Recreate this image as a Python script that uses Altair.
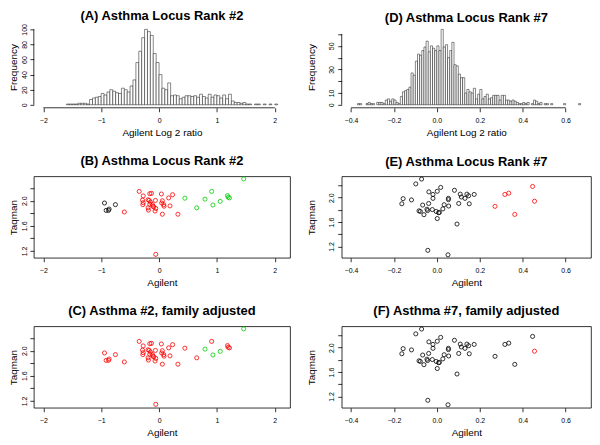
import altair as alt
import pandas as pd

FONT = "Liberation Sans"

# ---------------- Histogram A (Agilent log2 ratio, locus rank #2) ----------------
a_bin_start = -1.6
a_bin_width = 0.05
a_counts = [1, 1, 1, 1, 2, 2, 2, 1, 7, 9,
            10, 11, 15, 13, 17, 20, 18, 16, 15, 22,
            20, 17, 25, 33, 56, 71, 89, 100, 97, 92,
            68, 56, 40, 22, 20, 29, 12, 13, 12, 8,
            10, 12, 12, 11, 12, 10, 14, 11, 9, 14,
            10, 13, 12, 9, 13, 8, 14, 5, 3, 3,
            2, 3, 1, 1, 0, 1, 1, 0, 1, 0,
            1, 0, 1]

# ---------------- Histogram D (Agilent log2 ratio, locus rank #7) ----------------
d_bin_start = -0.37
d_bin_width = 0.01
d_counts = [1, 1, 0, 0, 1, 2, 1, 1, 0, 2,
            2, 2, 1, 4, 5, 3, 5, 4, 2, 1,
            7, 11, 12, 13, 15, 27, 25, 37, 43, 42,
            46, 49, 54, 45, 50, 48, 46, 50, 46, 64,
            49, 51, 40, 46, 53, 34, 33, 26, 23, 23,
            10, 13, 11, 10, 14, 5, 9, 13, 5, 7,
            9, 5, 6, 8, 8, 8, 4, 8, 8, 4,
            4, 3, 4, 3, 2, 1, 1, 2, 1, 2,
            0, 1, 4, 3, 1, 2, 0, 1, 1, 0,
            1, 0, 0, 0, 0, 0, 1, 0, 0, 0,
            0, 0, 0, 1]

# ---------------- Scatter B / C (rank #2) ----------------
rank2_agilent = [-0.943, -0.914, -0.874, -0.863, -0.754,
                 -0.343, -0.274, -0.286, -0.274, -0.280, -0.189, -0.160, -0.131, -0.171, -0.149,
                 -0.160, -0.189, -0.183, -0.114, -0.103, -0.091, -0.057, -0.069, -0.063, 0.040,
                 0.057, 0.046, 0.080, 0.086, 0.057, 0.166, 0.189, 0.234, 0.326, -0.600, -0.057,
                 0.446, 0.651, 0.794, 0.909, 0.931, 1.057, 1.183, 1.194, 1.217, 1.463]
rank2_taqman = [1.964, 1.846, 1.846, 1.867, 1.938,
                2.149, 2.077, 2.010, 1.969, 1.938, 2.015, 2.113, 2.118, 2.005, 1.979,
                1.944, 1.887, 1.851, 1.938, 1.913, 1.903, 1.877, 1.836, 2.005, 2.108,
                2.000, 1.964, 1.938, 1.913, 1.785, 2.046, 1.918, 2.097, 1.785, 1.821, 1.144,
                2.041, 1.887, 2.026, 2.149, 1.933, 1.990, 2.082, 2.056, 2.046, 2.349]
rank2_group = ["black"] * 5 + ["red"] * 31 + ["green"] * 10
rank2_group_adj = ["red"] * 36 + ["red", "red", "green", "red", "green", "green", "red", "red", "red", "green"]

# ---------------- Scatter E / F (rank #7) ----------------
rank7_agilent = [-0.163, -0.157, -0.118, -0.098, -0.071, -0.066, -0.060, -0.083, -0.077, -0.046,
                 -0.043, -0.037, -0.038, -0.042, -0.021, -0.018, -0.018, -0.003, 0.002, 0.002,
                 0.008, 0.012, 0.018, 0.028, 0.034, 0.054, 0.054, 0.055, 0.052, 0.082,
                 0.094, 0.102, 0.109, 0.114, 0.131, 0.140, 0.148, 0.151, 0.174,
                 0.271, 0.317, 0.335, 0.363, 0.446, 0.455]
rank7_taqman = [1.900, 1.984, 1.963, 2.226, 2.305, 1.879, 1.721, 1.784, 1.774, 1.811,
                1.789, 2.095, 1.905, 1.137, 1.805, 2.053, 1.989, 1.774, 2.105, 1.658,
                1.753, 1.758, 2.168, 1.816, 1.884, 1.989, 1.968, 1.863, 1.063, 2.121,
                1.568, 1.905, 2.058, 2.011, 1.989, 2.058, 2.032, 1.900, 2.053,
                1.858, 2.053, 2.074, 1.726, 2.184, 1.942]
rank7_group = ["black"] * 39 + ["red"] * 6
rank7_group_adj = ["black"] * 44 + ["red"]

COL1_W = 258
COL2_W = 251
ROW_H = 82

BLACK = "#000000"


def x_axis(values, fmt, title):
    return alt.Axis(values=values, format=fmt, title=title, grid=False, domain=False,
                    tickSize=4, tickColor=BLACK, tickWidth=0.8,
                    labelFont=FONT, labelFontSize=7, labelColor=BLACK, labelPadding=5,
                    labelFlush=False, labelOverlap=False, labelBound=False,
                    titleFont=FONT, titleFontSize=10, titleFontWeight="normal",
                    titleColor=BLACK, titlePadding=4)


def y_axis(values, label_expr, title, label_pad, title_pad):
    return alt.Axis(values=values, labelExpr=label_expr, title=title, grid=False, domain=False,
                    tickSize=4, tickColor=BLACK, tickWidth=0.8,
                    labelFont=FONT, labelFontSize=7, labelColor=BLACK,
                    labelAngle=-90, labelAlign="center", labelBaseline="bottom",
                    labelPadding=label_pad, labelFlush=False, labelOverlap=False,
                    labelBound=False,
                    titleFont=FONT, titleFontSize=10, titleFontWeight="normal",
                    titleColor=BLACK, titlePadding=title_pad)


def make_title(text, offset):
    return alt.TitleParams(text=text, font=FONT, fontSize=13, fontWeight="bold",
                           color=BLACK, anchor="middle", offset=offset)


def hist_panel(counts, start, width, x_domain, x_ticks, x_fmt, y_domain, y_ticks,
               y_label_expr, y_line_max, title, w, label_pad, title_pad):
    rows = []
    for i, c in enumerate(counts):
        if c > 0:
            x0 = round(start + i * width, 4)
            rows.append({"x0": x0, "x1": round(x0 + width, 4), "count": c})
    df = pd.DataFrame(rows)
    xs = alt.Scale(domain=x_domain, nice=False, zero=False)
    ys = alt.Scale(domain=y_domain, nice=False, zero=False)
    xa = x_axis(x_ticks, x_fmt, "Agilent Log 2 ratio")
    ya = y_axis(y_ticks, y_label_expr, "Frequency", label_pad, title_pad)
    bars = alt.Chart(df).mark_rect(fill="white", stroke="#111111", strokeWidth=0.5).encode(
        x=alt.X("x0:Q", scale=xs, axis=xa),
        x2="x1:Q",
        y=alt.Y("count:Q", scale=ys, axis=ya),
        y2=alt.datum(0),
    )
    xl = pd.DataFrame({"a": [x_ticks[0]], "b": [x_ticks[-1]]})
    yl = pd.DataFrame({"a": [0], "b": [y_line_max]})
    xline = alt.Chart(xl).mark_rule(color=BLACK, strokeWidth=0.8).encode(
        x=alt.X("a:Q", scale=xs, axis=xa), x2="b:Q", y=alt.value(ROW_H))
    yline = alt.Chart(yl).mark_rule(color=BLACK, strokeWidth=0.8).encode(
        x=alt.value(0), y=alt.Y("a:Q", scale=ys, axis=ya), y2="b:Q")
    return alt.layer(bars, xline, yline).properties(
        width=w, height=ROW_H, title=make_title(title, 1))


def scatter_panel(xv, yv, groups, x_domain, x_ticks, x_fmt, y_domain, title, w,
                  label_pad, title_pad):
    df = pd.DataFrame({"agilent": xv, "taqman": yv, "group": groups})
    return alt.Chart(df).mark_point(shape="circle", filled=False, size=17,
                                    strokeWidth=0.8, opacity=1).encode(
        x=alt.X("agilent:Q", scale=alt.Scale(domain=x_domain, nice=False, zero=False),
                axis=x_axis(x_ticks, x_fmt, "Agilent")),
        y=alt.Y("taqman:Q", scale=alt.Scale(domain=y_domain, nice=False, zero=False),
                axis=y_axis([1.2, 1.4, 1.6, 1.8, 2.0, 2.2],
                            "(round(datum.value*10) % 4 == 0) ? format(datum.value, '.1f') : ''",
                            "Taqman", label_pad, title_pad)),
        color=alt.Color("group:N",
                        scale=alt.Scale(domain=["black", "red", "green"],
                                        range=["#000000", "#FF0000", "#00CD00"]),
                        legend=None),
    ).properties(width=w, height=ROW_H, title=make_title(title, 7),
                 view=alt.ViewBackground(stroke=BLACK, strokeWidth=0.8))


X2_DOM = [-2.164, 2.264]
X2_TICKS = [-2, -1, 0, 1, 2]
X7_DOM = [-0.443, 0.718]
X7_TICKS = [-0.4, -0.2, 0.0, 0.2, 0.4, 0.6]
Y2_DOM = [1.09, 2.39]
Y7_DOM = [1.015, 2.35]

pa = hist_panel(a_counts, a_bin_start, a_bin_width, X2_DOM, X2_TICKS, "d",
                [-4, 104], [0, 20, 40, 60, 80, 100], "datum.label", 100,
                "(A) Asthma Locus Rank #2", COL1_W, 2, 2)
pd_ = hist_panel(d_counts, d_bin_start, d_bin_width, X7_DOM, X7_TICKS, ".1f",
                 [-2.56, 66.56], [0, 10, 20, 30, 40, 50, 60],
                 "indexof([0, 10, 30, 50], datum.value) >= 0 ? datum.label : ''", 60,
                 "(D) Asthma Locus Rank #7", COL2_W, 3, 11)
pb = scatter_panel(rank2_agilent, rank2_taqman, rank2_group, X2_DOM, X2_TICKS, "d", Y2_DOM,
                   "(B) Asthma Locus Rank #2", COL1_W, 2, 2)
pe = scatter_panel(rank7_agilent, rank7_taqman, rank7_group, X7_DOM, X7_TICKS, ".1f", Y7_DOM,
                   "(E) Asthma Locus Rank #7", COL2_W, 3, 11)
pc = scatter_panel(rank2_agilent, rank2_taqman, rank2_group_adj, X2_DOM, X2_TICKS, "d", Y2_DOM,
                   "(C) Asthma #2, family adjusted", COL1_W, 2, 2)
pf = scatter_panel(rank7_agilent, rank7_taqman, rank7_group_adj, X7_DOM, X7_TICKS, ".1f", Y7_DOM,
                   "(F) Asthma #7, family adjusted", COL2_W, 3, 11)

chart = alt.concat(pa, pd_, pb, pe, pc, pf, columns=2,
                   spacing=alt.RowColnumber(row=69, column=52),
                   bounds="flush").properties(
    padding=0, background="white"
).configure_view(stroke=None)

chart.save("out.html", embed_options={"renderer": "svg", "actions": False})
